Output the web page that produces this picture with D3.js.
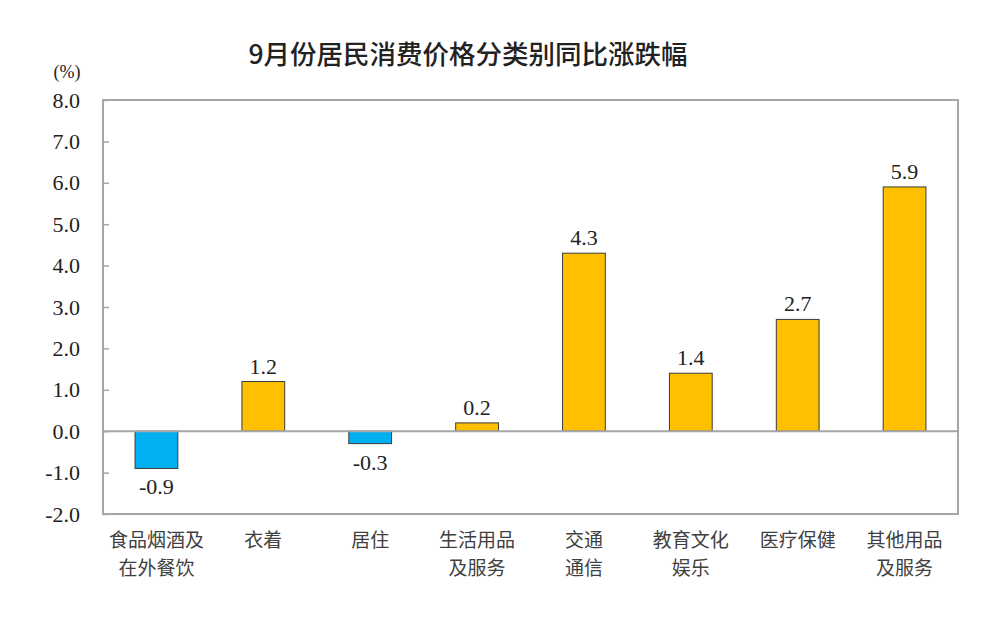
<!DOCTYPE html>
<html>
<head>
<meta charset="utf-8">
<script src="https://cdn.jsdelivr.net/npm/d3@7"></script>
<style>
  body { margin: 0; background: #fff; }
  svg { display: block; }
</style>
</head>
<body>
<div id="chart"></div>
<script>
// Chart data
const categories = [
  ['食品烟酒及', '在外餐饮'],
  ['衣着'],
  ['居住'],
  ['生活用品', '及服务'],
  ['交通', '通信'],
  ['教育文化', '娱乐'],
  ['医疗保健'],
  ['其他用品', '及服务']
];
const values = [-0.9, 1.2, -0.3, 0.2, 4.3, 1.4, 2.7, 5.9];
const yTicks = [-2, -1, 0, 1, 2, 3, 4, 5, 6, 7, 8];
const title = '9月份居民消费价格分类别同比涨跌幅';

const width = 1000;
const height = 617;
const margin = { top: 100, right: 42, bottom: 103, left: 103 };
const innerW = width - margin.left - margin.right;
const innerH = height - margin.top - margin.bottom;

const cjk = '"Noto Sans CJK SC", "Noto Sans", sans-serif';
const serif = '"Liberation Serif", "DejaVu Serif", serif';

// plain hyphen for negatives, like the original
const fmt = d => d3.format('.1f')(d).replace('\u2212', '-');

const svg = d3.select('#chart')
  .append('svg')
  .attr('width', width)
  .attr('height', height);

// Title
svg.append('text')
  .attr('x', 468)
  .attr('y', 64)
  .attr('text-anchor', 'middle')
  .attr('font-family', cjk)
  .attr('font-size', '26.5px')
  .attr('font-weight', 500)
  .attr('fill', '#222')
  .text(title);

// Unit label
svg.append('text')
  .attr('x', 67)
  .attr('y', 78)
  .attr('text-anchor', 'middle')
  .attr('font-family', serif)
  .attr('font-size', '18px')
  .attr('fill', '#222')
  .text('(%)');

const g = svg.append('g')
  .attr('transform', `translate(${margin.left},${margin.top})`);

const x = d3.scaleBand()
  .domain(d3.range(categories.length))
  .range([0, innerW])
  .paddingInner(0.6)
  .paddingOuter(0.3);

const y = d3.scaleLinear()
  .domain([-2, 8])
  .range([innerH, 0]);

// Plot frame
g.append('rect')
  .attr('x', 0)
  .attr('y', 0)
  .attr('width', innerW)
  .attr('height', innerH)
  .attr('fill', 'none')
  .attr('stroke', '#a6a6a6')
  .attr('stroke-width', 2);

// Y axis with inward ticks
const yAxis = g.append('g')
  .call(d3.axisLeft(y)
    .tickValues(yTicks)
    .tickSize(-6)
    .tickPadding(23)
    .tickFormat(fmt));

yAxis.select('.domain').remove();
yAxis.selectAll('.tick line')
  .attr('stroke', '#a6a6a6')
  .attr('stroke-width', 1.5);
yAxis.selectAll('.tick text')
  .attr('font-family', serif)
  .attr('font-size', '22px')
  .attr('fill', '#222');

// Bars
g.append('g')
  .selectAll('rect')
  .data(values)
  .join('rect')
  .attr('x', (d, i) => x(i))
  .attr('y', d => y(Math.max(0, d)))
  .attr('width', x.bandwidth())
  .attr('height', d => Math.abs(y(d) - y(0)))
  .attr('fill', d => d < 0 ? '#00b0f0' : '#ffc000')
  .attr('stroke', '#3a3a3a')
  .attr('stroke-width', 1);

// Zero line
g.append('line')
  .attr('x1', 0)
  .attr('x2', innerW)
  .attr('y1', y(0))
  .attr('y2', y(0))
  .attr('stroke', '#a6a6a6')
  .attr('stroke-width', 2);

// Value labels
g.append('g')
  .selectAll('text')
  .data(values)
  .join('text')
  .attr('x', (d, i) => x(i) + x.bandwidth() / 2)
  .attr('y', d => d < 0 ? y(d) + 26 : y(d) - 8)
  .attr('text-anchor', 'middle')
  .attr('font-family', serif)
  .attr('font-size', '22px')
  .attr('fill', '#222')
  .text(fmt);

// Category labels, one text per line
const lineGap = 28;
const catG = g.append('g')
  .selectAll('g')
  .data(categories)
  .join('g')
  .attr('transform', (d, i) => `translate(${x(i) + x.bandwidth() / 2},${innerH + 33})`);

catG.selectAll('text')
  .data(d => d)
  .join('text')
  .attr('x', 0)
  .attr('y', (d, i) => i * lineGap)
  .attr('text-anchor', 'middle')
  .attr('font-family', cjk)
  .attr('font-size', '19px')
  .attr('fill', '#404040')
  .text(d => d);
</script>
</body>
</html>
